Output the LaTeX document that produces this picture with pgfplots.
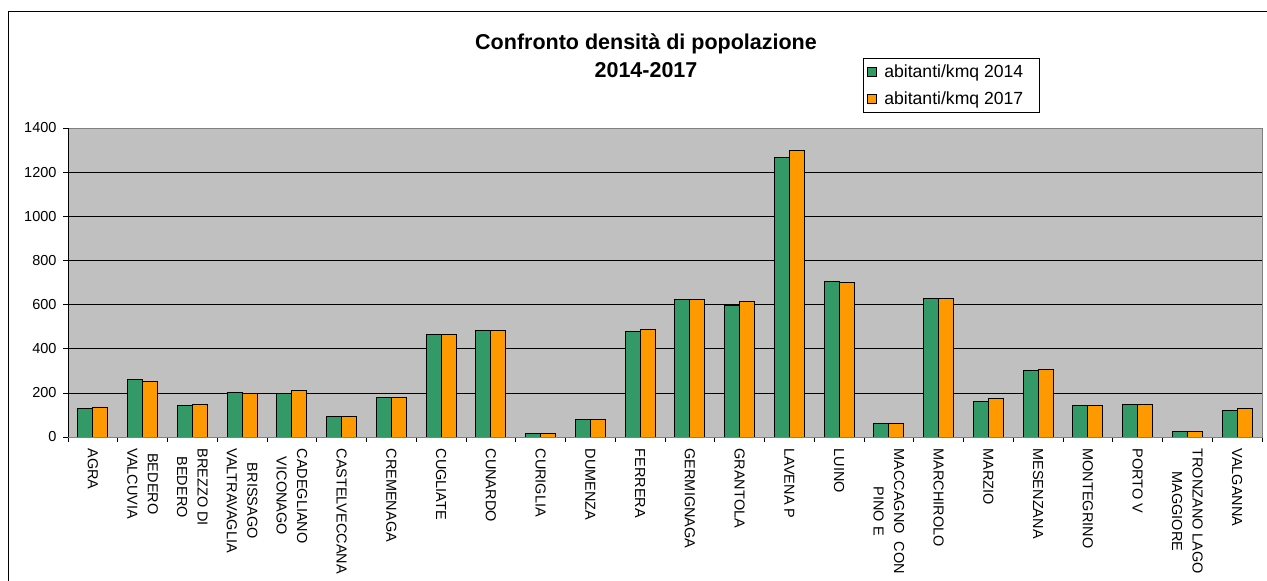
\documentclass[border=0pt]{standalone}
\usepackage{fontspec}
\setmainfont{Liberation Sans}
\usepackage{pgfplots}
\pgfplotsset{compat=1.18}
\usepackage{pgfplotstable}
\definecolor{bgray}{RGB}{192,192,192}
\definecolor{cgreen}{RGB}{51,153,102}
\definecolor{corange}{RGB}{255,153,0}
\pgfplotstableread{
x y2014 y2017
0 129 136
1 259 252
2 141 147
3 202 197
4 197 209
5 93 93
6 177 177
7 464 464
8 482 482
9 18 18
10 79 79
11 477 488
12 624 624
13 595 612
14 1265 1297
15 703 699
16 62 62
17 629 629
18 160 173
19 301 308
20 142 142
21 149 149
22 26 26
23 122 129
}\datatable
\begin{document}
\begin{tikzpicture}
\useasboundingbox (0pt,0pt) rectangle (1267pt,581pt);
\draw[line width=1.3pt] (8.3pt,-5pt) -- (8.3pt,569.7pt) -- (1275pt,569.7pt);
\node[font=\fontsize{21.5}{28}\selectfont\bfseries, align=center, anchor=base] at (646pt,503.7pt) {Confronto densità di popolazione\\2014-2017};
\begin{axis}[
  at={(68pt,144pt)}, anchor=south west,
  scale only axis, width=1194pt, height=309pt,
  xmin=-0.5, xmax=23.5, ymin=0, ymax=1400,
  axis background/.style={fill=bgray},
  axis line style={draw=black!50, line width=0.8pt},
  ybar=0pt, bar width=15pt,
  ytick={0,200,...,1400},
  ymajorgrids, grid style={black, line width=0.7pt},
  xtick pos=lower, ytick pos=left,
  tick align=outside, major tick length=5pt,
  tick style={black, line width=0.7pt},
  /pgf/number format/assume math mode=true,
  /pgf/number format/1000 sep={},
  yticklabel style={font=\fontsize{14.5}{16}\selectfont, xshift=-3pt},
  xtick={-0.5,0.5,...,23.5}, xticklabels={},
  extra x ticks={0,1,...,23},
  extra x tick style={major tick length=0pt, grid=none},
  extra x tick labels={AGRA,{BEDERO\\VALCUVIA},{BREZZO DI\\BEDERO},{BRISSAGO\\VALTRAVAGLIA},{CADEGLIANO\\VICONAGO},CASTELVECCANA,CREMENAGA,CUGLIATE,CUNARDO,CURIGLIA,DUMENZA,FERRERA,GERMIGNAGA,GRANTOLA,LAVENA P,LUINO,{MACCAGNO\ \ CON\\PINO E},MARCHIROLO,MARZIO,MESENZANA,MONTEGRINO,PORTO V,{TRONZANO LAGO\\MAGGIORE},VALGANNA},
  xticklabel style={yshift=-8pt, rotate=-90, anchor=west, align=center, font=\fontsize{14.5}{20.5}\selectfont},
  legend style={at={(0.6658,1.2265)}, anchor=north west, draw=black, line width=0.7pt,
     font=\fontsize{17.6}{20}\selectfont, row sep=9pt, inner xsep=2pt, inner ysep=4pt},
  legend cell align=left,
  legend image code/.code={\draw[#1, draw=black, line width=0.6pt] (2pt,-4.5pt) rectangle (11pt,4.5pt); \path[draw=none,fill=none] (0pt,0pt) -- (17pt,0pt);},
]
\addplot[fill=cgreen, draw=black, line width=0.9pt] table[x=x,y=y2014] {\datatable};
\addplot[fill=corange, draw=black, line width=0.9pt] table[x=x,y=y2017] {\datatable};
\legend{abitanti/kmq 2014\hspace*{12pt}, abitanti/kmq 2017\hspace*{12pt}}
\draw[black, line width=0.8pt] (rel axis cs:0,1) -- (rel axis cs:0,0) -- (rel axis cs:1,0);
\end{axis}
\end{tikzpicture}
\end{document}
